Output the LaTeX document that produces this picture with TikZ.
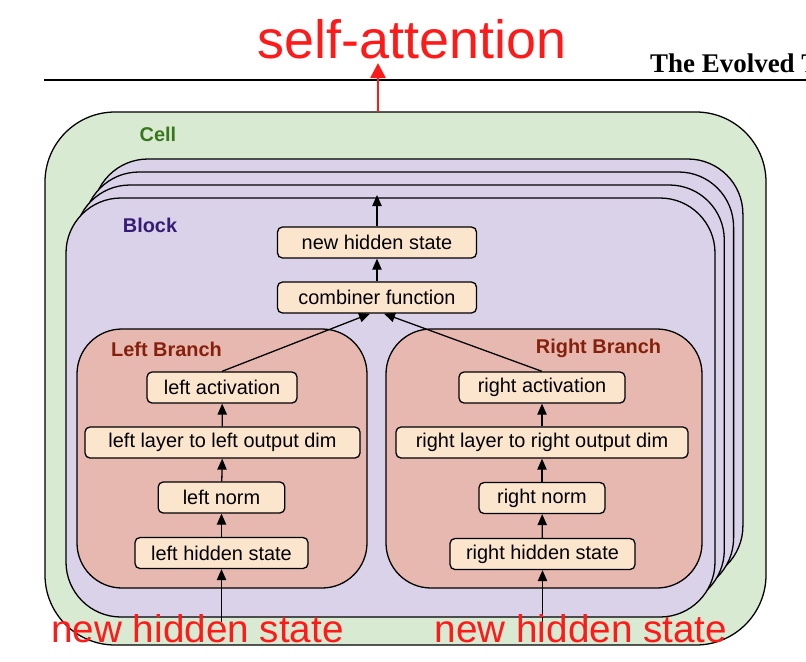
\documentclass[tikz,border=0pt]{standalone}
\usepackage{fontspec}
\setmainfont{Liberation Sans}
\newfontfamily\paperfont{Liberation Serif}
\usetikzlibrary{arrows.meta}

\definecolor{cellgreen}{HTML}{D9EAD3}
\definecolor{celltext}{HTML}{38761D}
\definecolor{blockpurple}{HTML}{D9D2E9}
\definecolor{blocktext}{HTML}{351C75}
\definecolor{branchred}{HTML}{E6B8AF}
\definecolor{branchtext}{HTML}{85200C}
\definecolor{layerfill}{HTML}{FCE5CD}
\definecolor{notered}{HTML}{FF1A1A}

\tikzset{
  frame/.style={draw=black, line width=1.1pt},
  layer/.style={draw=black, line width=1.1pt, fill=layerfill, rounded corners=0.15cm,
    minimum height=0.93cm, inner sep=0pt, font=\fontsize{17}{20}\selectfont},
  flow/.style={line width=1.1pt, -{Triangle[length=0.33cm,width=0.28cm]}},
  boxlabel/.style={anchor=base, inner sep=0pt, font=\fontsize{17}{20}\selectfont\bfseries},
  note/.style={text=notered, anchor=base, inner sep=0pt},
}

\begin{document}
\begin{tikzpicture}[x=0.03cm, y=-0.03cm]
        \useasboundingbox (0,0) rectangle (806,661);
        \clip (0,0) rectangle (806,661);

        \draw[line width=2.4pt] (44,80) -- (806,80);
        \node[anchor=base west, inner sep=0pt, font=\paperfont\bfseries\fontsize{23}{26}\selectfont] (paper) at (650,72) {The Evolved Transformer};

        \draw[frame, fill=cellgreen, rounded corners=2.1cm] (45,112) rectangle (766,645);
        \node[boxlabel, text=celltext] (celllabel) at (158,141) {Cell};

        \foreach \i in {3, 2, 1} {
            \draw[frame, fill=blockpurple, rounded corners=1.65cm] (66+9*\i, 198-13*\i) rectangle (715+9.3*\i, 617-12*\i);
        }
        \draw[frame, fill=blockpurple, rounded corners=1.65cm] (66,198) rectangle (715,617);
        \node[boxlabel, text=blocktext] (blocklabel) at (150,232) {Block};

        \draw[frame, fill=branchred, rounded corners=1.35cm] (77,329) rectangle (367,588);
        \draw[frame, fill=branchred, rounded corners=1.35cm] (386,329) rectangle (702,588);
        \node[boxlabel, text=branchtext] (leftlabel) at (166.5,356) {Left Branch};
        \node[boxlabel, text=branchtext] (rightlabel) at (598.5,353) {Right Branch};

        \node[layer, minimum width=5.97cm] (newstate) at (377,242.5) {new hidden state};
        \node[layer, minimum width=5.97cm] (combiner) at (377,297.5) {combiner function};

        \node[layer, minimum width=4.5cm] (lact) at (222,387.5) {left activation};
        \node[layer, minimum width=8.25cm] (llayer) at (222.5,442.5) {left layer to left output dim};
        \node[layer, minimum width=3.8cm] (lnorm) at (221.5,497.5) {left norm};
        \node[layer, minimum width=5.19cm] (lhidden) at (221.5,553) {left hidden state};

        \node[layer, minimum width=4.98cm] (ract) at (542,387.5) {right activation};
        \node[layer, minimum width=8.76cm] (rlayer) at (542,442.5) {right layer to right output dim};
        \node[layer, minimum width=3.78cm] (rnorm) at (542,498) {right norm};
        \node[layer, minimum width=5.55cm] (rhidden) at (542.5,554) {right hidden state};

        \coordinate (blocktop) at (377,195);
        \coordinate (lin) at (221.5,622);
        \coordinate (rin) at (542.5,622);
        \coordinate (celltop) at (378,112);
        \coordinate (atttip) at (378,63);

        \draw[flow] (newstate) -- (blocktop);
        \draw[flow] (combiner) -- (newstate);
        \draw[flow] (lact.north) -- ([xshift=-0.21cm]combiner.south);
        \draw[flow] (ract.north) -- ([xshift=0.21cm]combiner.south);
        \draw[flow] (llayer) -- (lact);
        \draw[flow] (lnorm) -- (llayer);
        \draw[flow] (lhidden) -- (lnorm);
        \draw[flow] (lin) -- (lhidden);
        \draw[flow] (rlayer) -- (ract);
        \draw[flow] (rnorm) -- (rlayer);
        \draw[flow] (rhidden) -- (rnorm);
        \draw[flow] (rin) -- (rhidden);

        \draw[notered, line width=2.2pt, -{Triangle[length=0.45cm,width=0.45cm]}] (celltop) -- (atttip);
        \node[note, font=\fontsize{46}{50}\selectfont] (att) at (412,58) {self-attention};
        \node[note, font=\fontsize{33}{36}\selectfont] (leftin) at (197.5,642) {new hidden state};
        \node[note, font=\fontsize{33}{36}\selectfont] (rightin) at (581,642) {new hidden state};
    \end{tikzpicture}
\end{document}
